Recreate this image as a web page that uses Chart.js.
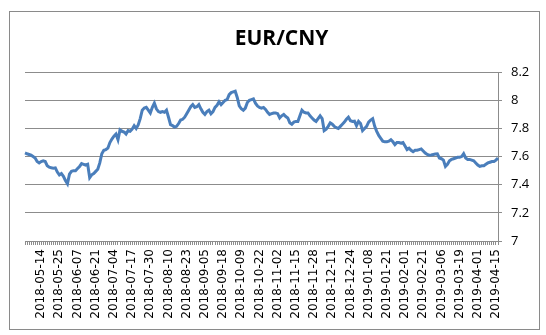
<!DOCTYPE html>
<html>
<head>
<meta charset="utf-8">
<script src="https://cdn.jsdelivr.net/npm/chart.js@4"></script>
<style>
  html, body { margin: 0; padding: 0; background: #fff; }
  #wrap { position: relative; width: 546px; height: 335px; }
  #frame { position: absolute; left: 9px; top: 11px; width: 529px; height: 317px; border: 1px solid #8a8a8a; pointer-events: none; }
</style>
</head>
<body>
<div id="wrap">
  <canvas id="chart" width="546" height="335"></canvas>
  <div id="frame"></div>
</div>
<script>
(function(){
  // ---- Data (daily EUR/CNY fixing)
  const tickLabels = [
    '2018-05-14','2018-05-25','2018-06-07','2018-06-21','2018-07-04','2018-07-17',
    '2018-07-30','2018-08-10','2018-08-23','2018-09-05','2018-09-18','2018-10-09',
    '2018-10-22','2018-11-02','2018-11-15','2018-11-28','2018-12-11','2018-12-24',
    '2019-01-08','2019-01-21','2019-02-01','2019-02-21','2019-03-06','2019-03-19',
    '2019-04-01','2019-04-15'
  ];
  const rates = [
    7.626, 7.62, 7.615, 7.61, 7.60, 7.59, 7.565, 7.555, 7.565, 7.57,
    7.565, 7.535, 7.525, 7.52, 7.518, 7.52, 7.49, 7.47, 7.48, 7.46,
    7.43, 7.407, 7.475, 7.495, 7.50, 7.50, 7.515, 7.53, 7.55, 7.545,
    7.54, 7.545, 7.45, 7.47, 7.48, 7.495, 7.51, 7.555, 7.62, 7.645,
    7.65, 7.66, 7.70, 7.725, 7.745, 7.76, 7.72, 7.79, 7.78, 7.775,
    7.76, 7.785, 7.78, 7.795, 7.82, 7.80, 7.825, 7.87, 7.93, 7.945,
    7.95, 7.93, 7.91, 7.95, 7.98, 7.94, 7.92, 7.915, 7.92, 7.915,
    7.93, 7.88, 7.827, 7.82, 7.81, 7.815, 7.835, 7.86, 7.865, 7.88,
    7.905, 7.93, 7.955, 7.97, 7.95, 7.955, 7.97, 7.94, 7.915, 7.90,
    7.92, 7.93, 7.905, 7.92, 7.95, 7.965, 7.99, 7.97, 7.985, 8.00,
    8.005, 8.04, 8.055, 8.06, 8.065, 8.02, 7.96, 7.94, 7.93, 7.945,
    7.985, 8.00, 8.005, 8.01, 7.98, 7.96, 7.95, 7.945, 7.95, 7.935,
    7.915, 7.90, 7.905, 7.91, 7.91, 7.905, 7.875, 7.89, 7.90, 7.885,
    7.875, 7.84, 7.83, 7.845, 7.85, 7.85, 7.89, 7.93, 7.915, 7.91,
    7.91, 7.89, 7.875, 7.86, 7.85, 7.87, 7.89, 7.87, 7.785, 7.795,
    7.815, 7.84, 7.83, 7.815, 7.805, 7.80, 7.815, 7.83, 7.845, 7.865,
    7.88, 7.855, 7.85, 7.852, 7.82, 7.85, 7.835, 7.785, 7.80, 7.815,
    7.845, 7.86, 7.87, 7.815, 7.78, 7.75, 7.73, 7.71, 7.705, 7.705,
    7.71, 7.72, 7.705, 7.685, 7.70, 7.70, 7.695, 7.70, 7.675, 7.65,
    7.66, 7.645, 7.635, 7.645, 7.645, 7.65, 7.655, 7.64, 7.625, 7.615,
    7.61, 7.612, 7.615, 7.618, 7.62, 7.59, 7.585, 7.575, 7.53, 7.545,
    7.57, 7.58, 7.585, 7.59, 7.595, 7.595, 7.60, 7.62, 7.59, 7.58,
    7.58, 7.575, 7.57, 7.555, 7.54, 7.53, 7.535, 7.535, 7.545, 7.555,
    7.56, 7.565, 7.565, 7.575, 7.59
  ];
  const yTicks = { min: 7, max: 8.2, step: 0.2 };

  // every 9th trading day carries a date label, starting at the 9th point
  const firstLabel = 8, labelEvery = 9;
  const labels = rates.map((v, i) =>
    (i >= firstLabel && (i - firstLabel) % labelEvery === 0) ? (tickLabels[(i - firstLabel) / labelEvery] || '') : '');

  const grey = '#8c8c8c';

  new Chart(document.getElementById('chart'), {
    type: 'line',
    data: {
      labels: labels,
      datasets: [{
        data: rates,
        borderColor: '#4A7EBB',
        borderWidth: 3,
        pointRadius: 0,
        tension: 0,
        fill: false
      }]
    },
    options: {
      responsive: false,
      animation: false,
      devicePixelRatio: 1,
      layout: { padding: { left: 25, right: 8, top: 0, bottom: 9 } },
      plugins: {
        legend: { display: false },
        tooltip: { enabled: false },
        title: {
          display: true,
          text: 'EUR/CNY',
          color: '#000',
          font: { family: 'Open Sans', size: 21, weight: 'bold' },
          padding: { top: 26, bottom: 21 }
        }
      },
      scales: {
        x: {
          type: 'category',
          offset: false,
          grid: { drawOnChartArea: false, drawTicks: true, tickLength: 4, color: grey, tickColor: grey },
          border: { display: true, color: grey, width: 1 },
          ticks: {
            autoSkip: false, maxRotation: 90, minRotation: 90, padding: 4,
            color: '#000', font: { family: 'DejaVu Sans', size: 12 }
          },
          afterFit: s => { s.height = 85; }
        },
        y: {
          position: 'right',
          min: yTicks.min, max: yTicks.max,
          grid: { color: grey, tickLength: 4, tickColor: grey },
          border: { display: true, color: grey, width: 1 },
          ticks: {
            stepSize: yTicks.step, padding: 9,
            color: '#000', font: { family: 'Open Sans', size: 13 },
            callback: v => String(Number(v.toFixed(1)))
          },
          afterFit: s => { s.width = 40; }
        }
      }
    }
  });
})();
</script>
</body>
</html>
